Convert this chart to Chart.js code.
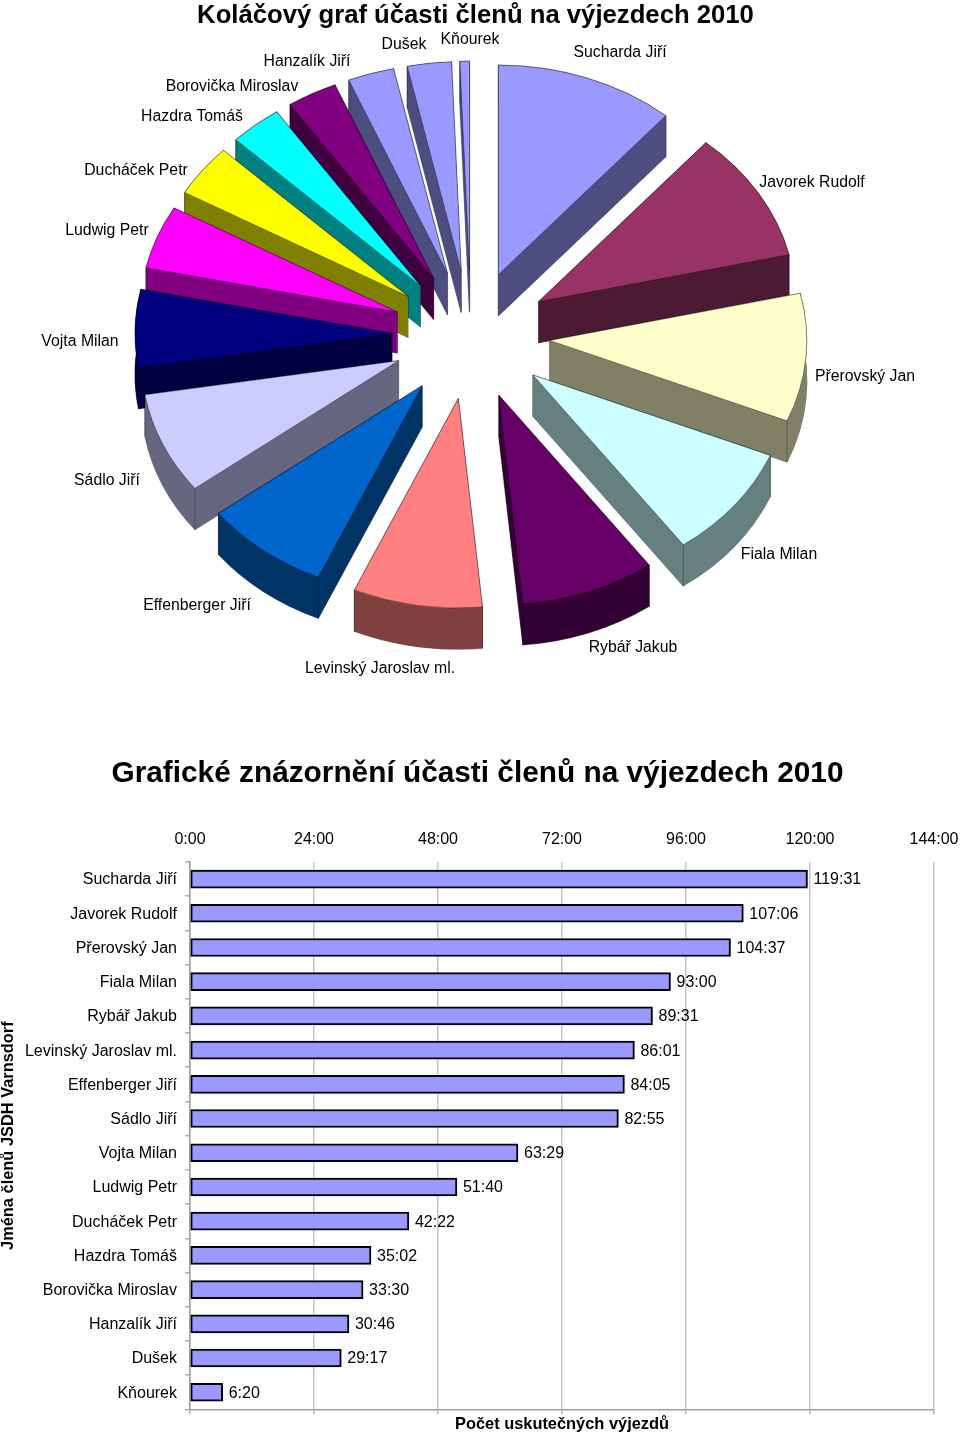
<!DOCTYPE html>
<html lang="cs">
<head>
<meta charset="utf-8">
<title>Účast členů na výjezdech 2010</title>
<script src="https://cdn.jsdelivr.net/npm/chart.js@4/dist/chart.umd.min.js"></script>
<style>
html,body{margin:0;padding:0;background:#fff;width:960px;height:1435px;overflow:hidden}
canvas{position:absolute;display:block}
#pie{left:0;top:0}
#bars{left:-4px;top:720px}
</style>
</head>
<body>
<canvas id="pie" width="960" height="720" style="width:960px;height:720px"></canvas>
<canvas id="bars" width="963" height="715" style="width:963px;height:715px"></canvas>
<script>
const members = ["Sucharda Jiří","Javorek Rudolf","Přerovský Jan","Fiala Milan","Rybář Jakub","Levinský Jaroslav ml.","Effenberger Jiří","Sádlo Jiří","Vojta Milan","Ludwig Petr","Ducháček Petr","Hazdra Tomáš","Borovička Miroslav","Hanzalík Jiří","Dušek","Kňourek"];
const durations = ["119:31","107:06","104:37","93:00","89:31","86:01","84:05","82:55","63:29","51:40","42:22","35:02","33:30","30:46","29:17","6:20"];
const sliceColors = ["#9999FF","#993366","#FFFFCC","#CCFFFF","#660066","#FF8080","#0066CC","#CCCCFF","#000080","#FF00FF","#FFFF00","#00FFFF","#800080","#9999FF","#9999FF","#9999FF"];
const pieLabelOffsets = [[149,-282],[341,-152],[394,42],[308,220],[162,313],[-91,334],[-274,271],[-364,146],[-391,7],[-364,-104],[-335,-164],[-279,-218],[-239,-248],[-164,-273],[-67,-290],[-1,-295]];
const tickStepMinutes = 1440;
const axisMaxMinutes = 8640;
const pieTitle = "Koláčový graf účasti členů na výjezdech 2010";
const barTitle = "Grafické znázornění účasti členů na výjezdech 2010";
const memberAxisTitle = "Jména členů JSDH Varnsdorf";
const countAxisTitle = "Počet uskutečných výjezdů";

const toMinutes = s => { const [h,m] = s.split(":").map(Number); return h*60+m; };
const minutes = durations.map(toMinutes);
const FONT = "'Liberation Sans', Arial, sans-serif";

const halfShade = hex => {
  const n = parseInt(hex.slice(1),16);
  const c = v => Math.round(v/2);
  return `rgb(${c(n>>16&255)},${c(n>>8&255)},${c(n&255)})`;
};

const pie3d = {tilt:0.815, explode:79, depth:41, nudgeX:-4.5};

const pie3dPlugin = {
  id:'pie3d',
  beforeDatasetsDraw(chart){
    const ctx = chart.ctx;
    const arcs = chart.getDatasetMeta(0).data;
    const k = pie3d.tilt;
    const items = arcs.map((arc,i)=>({arc,i,mid:(arc.startAngle+arc.endAngle)/2}));
    items.sort((a,b)=>Math.sin(a.mid)-Math.sin(b.mid));
    items.forEach(({arc,i,mid})=>{
      const a0 = arc.startAngle, a1 = arc.endAngle, r = arc.outerRadius;
      const cx = arc.x + pie3d.nudgeX + pie3d.explode*Math.cos(mid);
      const cy = arc.y + k*pie3d.explode*Math.sin(mid);
      const d = pie3d.depth;
      const top = sliceColors[i], side = halfShade(top);
      const pt = t => [cx+r*Math.cos(t), cy+k*r*Math.sin(t)];
      const wedge = dy => { ctx.beginPath(); ctx.moveTo(cx,cy+dy); ctx.ellipse(cx,cy+dy,r,k*r,0,a0,a1); ctx.closePath(); };
      const wall = t => { const [x,y]=pt(t); ctx.beginPath(); ctx.moveTo(cx,cy); ctx.lineTo(x,y); ctx.lineTo(x,y+d); ctx.lineTo(cx,cy+d); ctx.closePath(); };
      const rim = () => { ctx.beginPath(); ctx.ellipse(cx,cy,r,k*r,0,a0,a1); ctx.ellipse(cx,cy+d,r,k*r,0,a1,a0,true); ctx.closePath(); };
      const solid = [()=>wedge(d),()=>wall(a0),()=>wall(a1),rim];
      ctx.save();
      // faint silhouette first, then the solid body over it
      ctx.strokeStyle = 'rgba(0,0,0,0.3)'; ctx.lineWidth = 1.2; ctx.lineJoin='round';
      solid.forEach(s=>{ s(); ctx.stroke(); });
      ctx.fillStyle = side;
      solid.forEach(s=>{ s(); ctx.fill(); });
      // creases at the two outer corners
      ctx.strokeStyle = 'rgba(0,0,0,0.4)'; ctx.lineWidth = 0.7;
      [a0,a1].forEach(t=>{ const [x,y]=pt(t); ctx.beginPath(); ctx.moveTo(x,y); ctx.lineTo(x,y+d); ctx.stroke(); });
      wedge(0); ctx.fillStyle = top; ctx.fill();
      ctx.strokeStyle = 'rgba(0,0,0,0.45)'; ctx.lineWidth = 0.8; ctx.stroke();
      ctx.restore();
    });
    return false;
  },
  afterDraw(chart){
    const ctx = chart.ctx;
    const arc = chart.getDatasetMeta(0).data[0];
    ctx.save();
    ctx.font = `15.8px ${FONT}`; ctx.fillStyle = '#000'; ctx.textAlign='center'; ctx.textBaseline='middle';
    members.forEach((name,i)=>{
      const [dx,dy] = pieLabelOffsets[i];
      ctx.fillText(name, arc.x+pie3d.nudgeX+dx, arc.y+dy);
    });
    ctx.restore();
  }
};

new Chart(document.getElementById('pie'),{
  type:'pie',
  plugins:[pie3dPlugin],
  data:{labels:members,datasets:[{data:minutes,backgroundColor:sliceColors,borderWidth:0}]},
  options:{
    responsive:false,animation:false,events:[],
    radius:257,
    layout:{padding:{left:0,right:9,top:0,bottom:80.8}},
    plugins:{
      legend:{display:false},tooltip:{enabled:false},
      title:{display:true,text:pieTitle,color:'#000',font:{family:FONT,size:25.7,weight:'bold'},padding:{top:0,bottom:0}}
    }
  }
});

const barLabelPlugin = {
  id:'barLabels',
  afterDatasetsDraw(chart){
    const ctx = chart.ctx;
    const x = chart.scales.x, y = chart.scales.y;
    ctx.save();
    ctx.font = `16px ${FONT}`; ctx.fillStyle='#000'; ctx.textAlign='left'; ctx.textBaseline='middle';
    minutes.forEach((v,i)=>ctx.fillText(durations[i], x.getPixelForValue(v)+6, y.getPixelForValue(i)+1));
    ctx.restore();
  }
};

new Chart(document.getElementById('bars'),{
  type:'bar',
  plugins:[barLabelPlugin],
  data:{labels:members,datasets:[{data:minutes,backgroundColor:'#9999FF',borderColor:'#000',borderWidth:2,borderSkipped:false,barThickness:18,xAxisID:'x',yAxisID:'y'}]},
  options:{
    indexAxis:'y',responsive:false,animation:false,events:[],
    layout:{padding:0},
    plugins:{
      legend:{display:false},tooltip:{enabled:false},
      title:{display:true,text:barTitle,color:'#000',font:{family:FONT,size:29.8,weight:'bold'},padding:{top:36,bottom:25}}
    },
    scales:{
      x:{
        type:'linear',position:'top',min:0,max:axisMaxMinutes,
        afterFit(s){s.paddingRight=25;},
        grid:{color:'#c4c4c4',lineWidth:1.5,drawTicks:false},
        border:{display:false},
        ticks:{stepSize:tickStepMinutes,padding:13,color:'#000',font:{family:FONT,size:16},maxRotation:0,autoSkip:false,
          callback:v=>`${v/60}:00`}
      },
      x2:{
        type:'linear',axis:'x',position:'bottom',min:0,max:axisMaxMinutes,
        grid:{drawOnChartArea:false,drawTicks:true,tickLength:5,color:'#b0b0b0',lineWidth:1.5},
        border:{display:true,color:'#a0a0a0',width:1.5},
        ticks:{stepSize:tickStepMinutes,display:false},
        title:{display:true,text:countAxisTitle,color:'#000',font:{family:FONT,size:16.4,weight:'bold'},padding:{top:0,bottom:1}}
      },
      y:{
        position:'left',
        afterFit(s){s.width=194;},
        grid:{drawOnChartArea:false,drawTicks:true,tickLength:5,color:'#b0b0b0',lineWidth:1.5,offset:true},
        border:{display:true,color:'#a0a0a0',width:1.5},
        ticks:{padding:8,labelOffset:1,color:'#000',font:{family:FONT,size:16},autoSkip:false},
        title:{display:true,text:memberAxisTitle,color:'#000',font:{family:FONT,size:16.4,weight:'bold'},padding:{top:3,bottom:0}}
      }
    }
  }
});
</script>
</body>
</html>
